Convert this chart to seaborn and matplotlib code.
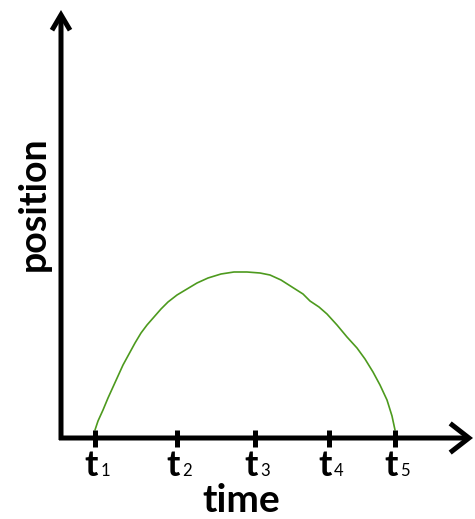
import matplotlib
matplotlib.use("Agg")
import matplotlib.pyplot as plt
import seaborn as sns
import pandas as pd

sns.set_theme(style="white")
plt.rcParams["font.family"] = ["Lato", "DejaVu Sans"]

# Tick positions along the time axis and their labels
tick_times = [34, 116, 194, 268, 334]
tick_names = ["t", "t", "t", "t", "t"]
tick_subs = ["1", "2", "3", "4", "5"]

# Sketched position-versus-time curve
curve_time = [34, 37, 42, 47, 52, 57, 62, 68, 74, 80, 86, 93, 100, 107, 116,
              126, 136, 147, 160, 173, 186, 199, 209, 220, 231, 242, 249,
              258, 266, 276, 286, 296, 304, 312, 319, 326, 331, 334]
curve_pos = [8, 17, 28, 40, 51, 62, 73, 84, 95, 105, 113, 121, 129, 136, 143,
             149, 155, 160, 164, 166, 166, 165, 163, 158, 151, 144, 137,
             131, 124, 113, 101, 90, 79, 66, 53, 38, 22, 8]

df = pd.DataFrame({"time": curve_time, "position": curve_pos})

fig = plt.figure(figsize=(4.75, 5.19), dpi=100)
ax = fig.add_axes([0, 0, 1, 1])
ax.set_xlim(-61, 414)
ax.set_ylim(-81, 438)
ax.axis("off")

sns.lineplot(data=df, x="time", y="position", sort=False, color="#4d9a1e",
             linewidth=1.2, ax=ax, estimator=None)

# Axes drawn as thick arrows
axis_kw = dict(color="black", lw=3.6, shrinkA=0, shrinkB=0,
               mutation_scale=1, capstyle="butt", joinstyle="miter")
ax.annotate("", xy=(0, 428), xytext=(0, -2),
            arrowprops=dict(arrowstyle="->,head_length=11,head_width=6.5", **axis_kw))
ax.annotate("", xy=(412, 0), xytext=(-2, 0),
            arrowprops=dict(arrowstyle="->,head_length=13.5,head_width=10.5", **axis_kw))

# Tick marks crossing the time axis
ax.vlines(tick_times, -9, 8, color="black", linewidth=3.6)

for t, name, sub in zip(tick_times, tick_names, tick_subs):
    ax.annotate(name, xy=(t, -28), xytext=(-4, 0), textcoords="offset pixels",
                ha="center", va="center", fontsize=26, fontweight="bold",
                color="black")
    ax.annotate(sub, xy=(t, -28), xytext=(10, -5), textcoords="offset pixels",
                ha="center", va="center", fontsize=12, color="black")

ax.text(180.5, -63, "time", ha="center", va="center", fontsize=28,
        fontweight="bold", color="black")
ax.text(-27.5, 234.5, "position", ha="center", va="center", fontsize=27,
        fontweight="bold", rotation=90, color="black")

fig.savefig("out.png", dpi=100)
